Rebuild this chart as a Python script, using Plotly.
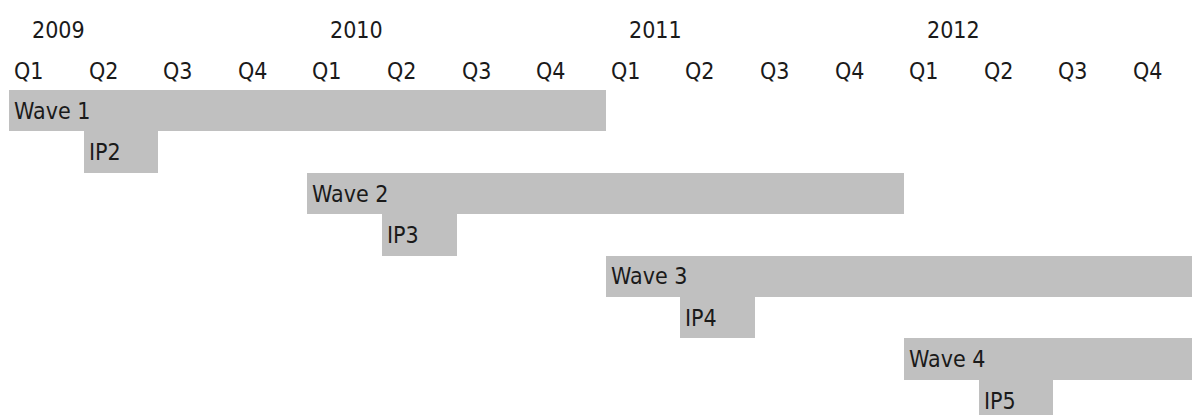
import plotly.graph_objects as go

# ---- data ----
years = ["2009", "2010", "2011", "2012"]
year_start_q = [0, 4, 8, 12]
quarters = ["Q1", "Q2", "Q3", "Q4"] * 4
task_labels = ["Wave 1", "IP2", "Wave 2", "IP3", "Wave 3", "IP4", "Wave 4", "IP5"]
task_start_q = [0, 1, 4, 5, 8, 9, 12, 13]      # quarter index from 2009 Q1
task_len_q = [8, 1, 8, 1, 8, 1, 4, 1]          # duration in quarters
task_row = [0, 1, 2, 3, 4, 5, 6, 7]

BAR = "#C0C0C0"
TXT = "#1a1a1a"
FONT = "DejaVu Sans Condensed, Liberation Sans Narrow, Arial Narrow, sans-serif"

QW = 74.6    # px per quarter
RH = 41.4    # px per row
X0 = 9       # px of 2009 Q1 start
Y0 = 90      # px of first row top
W, H = 1192, 415

fig = go.Figure()
fig.add_trace(go.Bar(
    orientation="h",
    y=[r + 0.5 for r in task_row],
    x=task_len_q,
    base=task_start_q,
    width=1.0,
    marker=dict(color=BAR, line=dict(width=0)),
    hoverinfo="skip",
    showlegend=False,
))

ann = []
for lab, s, r in zip(task_labels, task_start_q, task_row):
    ann.append(dict(x=s, y=r + 0.5, text=lab, xanchor="left", yanchor="middle",
                    xshift=3, showarrow=False, font=dict(size=23, color=TXT, family=FONT)))
for i, q in enumerate(quarters):
    ann.append(dict(x=i, y=-0.47, text=q, xanchor="left", yanchor="middle",
                    xshift=3, showarrow=False, font=dict(size=23, color=TXT, family=FONT)))
for y, s in zip(years, year_start_q):
    ann.append(dict(x=s, y=-1.46, text=y, xanchor="left", yanchor="middle",
                    xshift=21, showarrow=False, font=dict(size=23, color=TXT, family=FONT)))

fig.update_layout(
    width=W, height=H,
    margin=dict(l=0, r=0, t=0, b=0),
    paper_bgcolor="white", plot_bgcolor="white",
    xaxis=dict(range=[-X0 / QW, (W - X0) / QW], visible=False, fixedrange=True),
    yaxis=dict(range=[(H - Y0) / RH, -Y0 / RH], visible=False, fixedrange=True),
    annotations=ann,
    bargap=0,
)

fig.write_html(
    "out.html",
    config={"displayModeBar": False},
    post_script="document.body.style.margin='0';document.body.style.overflow='hidden';",
)
